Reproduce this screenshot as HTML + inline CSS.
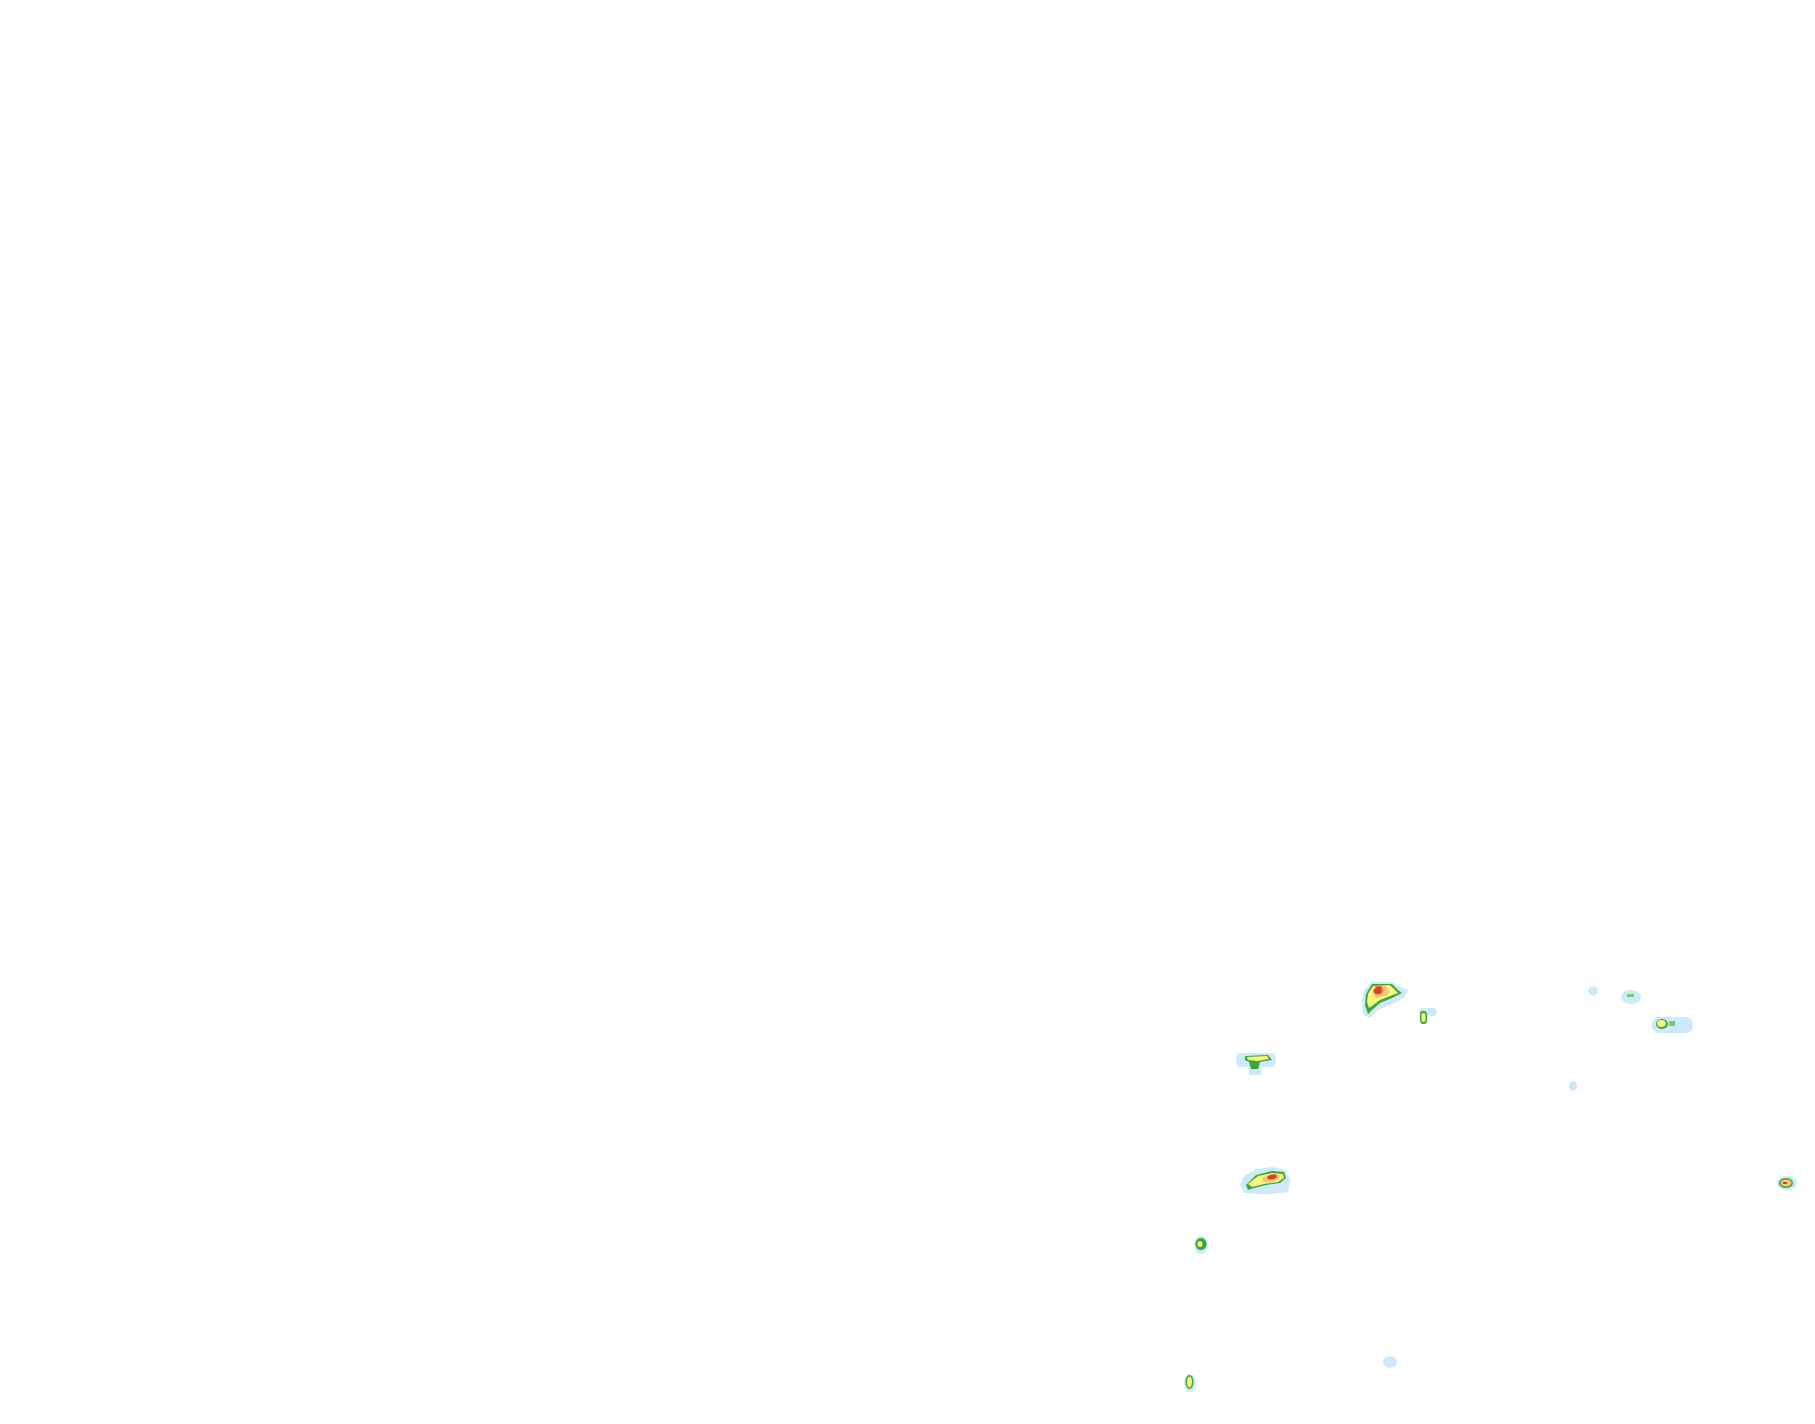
<!DOCTYPE html>
<html><head><style>html,body{margin:0;padding:0;background:#fff;}svg{display:block}</style></head>
<body>
<svg width="1815" height="1424" viewBox="0 0 1815 1424" xmlns="http://www.w3.org/2000/svg">
<rect width="1815" height="1424" fill="#fff"/>
<g>
<!-- big storm -->
<polygon points="1364,990 1372,982 1392,982 1400,987 1408,990 1404,998 1392,1004 1378,1010 1370,1018 1363,1015 1362,1000" fill="#cdeafd"/>
<polygon points="1366,994 1372,984 1392,984 1398,990 1402,993 1392,998 1380,1003 1372,1010 1368,1014 1365,1005" fill="#3aa83a"/>
<polygon points="1368,994 1373,986 1390,985 1396,991 1398,993 1390,996 1380,1000 1372,1006 1369,1008 1367,1002" fill="#fdf57a"/>
<polygon points="1372,992 1375,986 1386,986 1390,992 1386,996 1376,998" fill="#f6c879"/>
<polygon points="1373,990 1376,986 1382,986 1384,991 1380,995 1374,994" fill="#e9814a"/>
<polygon points="1374,991 1377,987 1381,987 1381,993 1376,994" fill="#dd3a2a"/>
<!-- small 2 -->
<rect x="1419" y="1008" width="18" height="8" rx="4" fill="#cdeafd"/>
<rect x="1420" y="1011" width="7" height="13" rx="3" fill="#3aa83a"/>
<rect x="1421.5" y="1013" width="4" height="9" rx="2" fill="#fdf57a"/>
<!-- tiny blues -->
<ellipse cx="1593" cy="991" rx="5" ry="4.5" fill="#cdeafd"/>
<ellipse cx="1631" cy="997" rx="10" ry="7" fill="#cdeafd"/>
<rect x="1627" y="994" width="7" height="3" fill="#6cd36c"/>
<rect x="1652" y="1017" width="41" height="16" rx="7" fill="#cdeafd"/>
<ellipse cx="1662" cy="1024" rx="6" ry="5" fill="#3aa83a"/>
<ellipse cx="1661.5" cy="1023.5" rx="4.5" ry="3.5" fill="#fdf57a"/>
<rect x="1669" y="1021" width="6" height="5" fill="#6cd36c"/>
<ellipse cx="1573" cy="1086" rx="4" ry="5" fill="#cdeafd"/>
<!-- left blob -->
<rect x="1236" y="1053" width="40" height="14" rx="6" fill="#cdeafd"/>
<rect x="1249" y="1065" width="12" height="10" fill="#cdeafd"/>
<polygon points="1245,1056 1268,1055 1272,1060 1260,1062 1258,1069 1251,1069 1249,1062 1245,1060" fill="#3aa83a"/>
<polygon points="1247,1057 1267,1056 1269,1059 1258,1061 1248,1060" fill="#fdf57a"/>
<!-- bottom-left storm -->
<polygon points="1244,1176 1256,1169 1272,1167 1286,1170 1290,1180 1288,1192 1272,1194 1256,1194 1244,1193 1240,1185" fill="#cdeafd"/>
<polygon points="1246,1185 1256,1175 1272,1171 1284,1172 1286,1178 1280,1183 1266,1185 1254,1188 1248,1190" fill="#3aa83a"/>
<polygon points="1248,1184 1258,1176 1272,1173 1283,1174 1284,1178 1278,1182 1264,1184 1252,1187" fill="#fdf57a"/>
<ellipse cx="1271" cy="1178" rx="9" ry="4" fill="#f6c879" transform="rotate(-12 1271 1178)"/>
<ellipse cx="1272" cy="1177" rx="5" ry="2.3" fill="#dd3a2a" transform="rotate(-12 1272 1177)"/>
<!-- right blob -->
<ellipse cx="1787" cy="1183" rx="10" ry="7" fill="#cdeafd"/>
<ellipse cx="1786" cy="1183" rx="7" ry="5" fill="#3aa83a"/>
<ellipse cx="1786" cy="1183" rx="5.5" ry="3.5" fill="#f6c879"/>
<rect x="1783" y="1182" width="4" height="2" fill="#dd3a2a"/>
<!-- small green -->
<ellipse cx="1201" cy="1245" rx="7" ry="9" fill="#cdeafd"/>
<ellipse cx="1201" cy="1244" rx="5.5" ry="6" fill="#3aa83a"/>
<ellipse cx="1200" cy="1244" rx="2.5" ry="3" fill="#fdf57a"/>
<!-- light blue -->
<ellipse cx="1390" cy="1362" rx="7" ry="6" fill="#cdeafd"/>
<!-- bottom -->
<ellipse cx="1190" cy="1383" rx="6" ry="9" fill="#cdeafd"/>
<ellipse cx="1189.5" cy="1382" rx="4" ry="7" fill="#3aa83a"/>
<ellipse cx="1189.5" cy="1382" rx="2.5" ry="5.5" fill="#fdf57a"/>
</g>
</svg>
</body></html>
